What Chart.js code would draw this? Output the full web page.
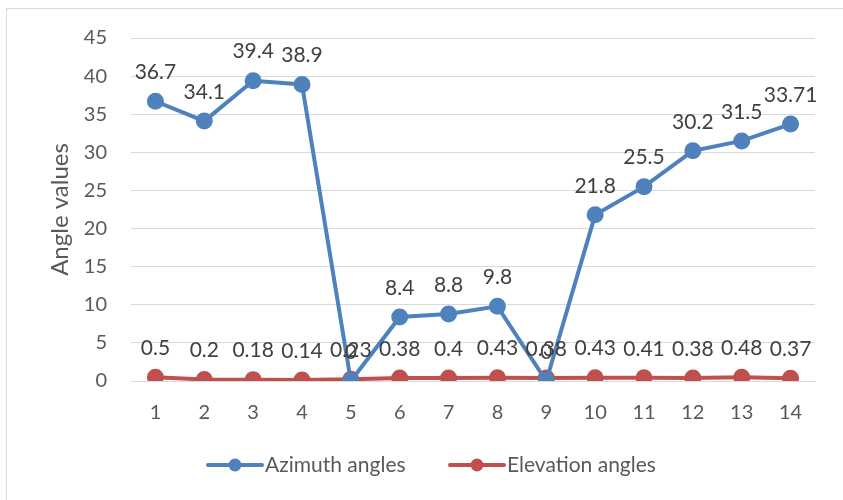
<!DOCTYPE html>
<html>
<head>
<meta charset="utf-8">
<script src="https://cdn.jsdelivr.net/npm/chart.js@4"></script>
<style>
  html, body { margin: 0; padding: 0; background: #fff; }
  #frame { position: absolute; left: 6px; top: 8px; width: 845px; height: 495px; border: 1px solid #d9d9d9; box-sizing: border-box; }
  #wrap { position: absolute; left: 0; top: 0; width: 843px; height: 500px; }
</style>
</head>
<body>
<div id="frame"></div>
<div id="wrap"><canvas id="c" width="843" height="500"></canvas></div>
<script>
const categories = ['1','2','3','4','5','6','7','8','9','10','11','12','13','14'];
const azimuth = [36.7, 34.1, 39.4, 38.9, 0, 8.4, 8.8, 9.8, 0, 21.8, 25.5, 30.2, 31.5, 33.71];
const elevation = [0.5, 0.2, 0.18, 0.14, 0.23, 0.38, 0.4, 0.43, 0.38, 0.43, 0.41, 0.38, 0.48, 0.37];
const seriesNames = ['Azimuth angles', 'Elevation angles'];
const yTicks = [0, 5, 10, 15, 20, 25, 30, 35, 40, 45];

const BLUE = '#4f81bd';
const RED = '#c0504d';
const FONT = 'Lato, "Liberation Sans", sans-serif';

// value labels above each marker
const valueLabels = {
  id: 'valueLabels',
  afterDatasetsDraw(chart) {
    const ctx = chart.ctx;
    ctx.save();
    ctx.font = '21px ' + FONT;
    ctx.fillStyle = '#404040';
    ctx.textAlign = 'center';
    ctx.textBaseline = 'middle';
    chart.data.datasets.forEach((ds, i) => {
      const meta = chart.getDatasetMeta(i);
      meta.data.forEach((pt, j) => {
        ctx.fillText(String(ds.data[j]), pt.x, pt.y - 29);
      });
    });
    ctx.restore();
  }
};

// legend: line with marker, then series name
const lineLegend = {
  id: 'lineLegend',
  afterDraw(chart) {
    const ctx = chart.ctx;
    ctx.save();
    ctx.font = '21px ' + FONT;
    ctx.textBaseline = 'middle';
    const y = 465;
    const items = [
      { name: seriesNames[0], color: BLUE, x: 208 },
      { name: seriesNames[1], color: RED, x: 450 }
    ];
    items.forEach(it => {
      ctx.strokeStyle = it.color;
      ctx.lineWidth = 4;
      ctx.lineCap = 'round';
      ctx.beginPath();
      ctx.moveTo(it.x, y);
      ctx.lineTo(it.x + 54, y);
      ctx.stroke();
      ctx.fillStyle = it.color;
      ctx.beginPath();
      ctx.arc(it.x + 27, y, 6.5, 0, Math.PI * 2);
      ctx.fill();
      ctx.fillStyle = '#595959';
      ctx.textAlign = 'left';
      ctx.fillText(it.name, it.x + 57, y);
    });
    ctx.restore();
  }
};

new Chart(document.getElementById('c'), {
  type: 'line',
  data: {
    labels: categories,
    datasets: [
      { label: seriesNames[0], data: azimuth, borderColor: BLUE, backgroundColor: BLUE,
        borderWidth: 4, pointRadius: 6.5, pointHoverRadius: 6.5, tension: 0 },
      { label: seriesNames[1], data: elevation, borderColor: RED, backgroundColor: RED,
        borderWidth: 4, pointRadius: 6.5, pointHoverRadius: 6.5, tension: 0 }
    ]
  },
  options: {
    responsive: false,
    animation: false,
    layout: { padding: { left: 42, top: 38, right: 28, bottom: 0 } },
    plugins: { legend: { display: false }, tooltip: { enabled: false } },
    scales: {
      x: {
        offset: true,
        grid: { display: false, drawTicks: false },
        border: { display: true, color: '#d9d9d9', width: 1 },
        ticks: { font: { family: FONT, size: 20 }, color: '#595959', padding: 20 },
        afterFit(scale) { scale.height = 119; }
      },
      y: {
        min: 0, max: 45,
        afterBuildTicks(scale) { scale.ticks = yTicks.map(v => ({ value: v })); },
        grid: { color: '#d9d9d9', drawTicks: false },
        border: { display: false },
        ticks: { font: { family: FONT, size: 20 }, color: '#595959', padding: 24 },
        title: { display: true, text: 'Angle values', font: { family: FONT, size: 24 }, color: '#595959', padding: 4 },
        afterFit(scale) { scale.width = 89; }
      }
    }
  },
  plugins: [valueLabels, lineLegend]
});
</script>
</body>
</html>
